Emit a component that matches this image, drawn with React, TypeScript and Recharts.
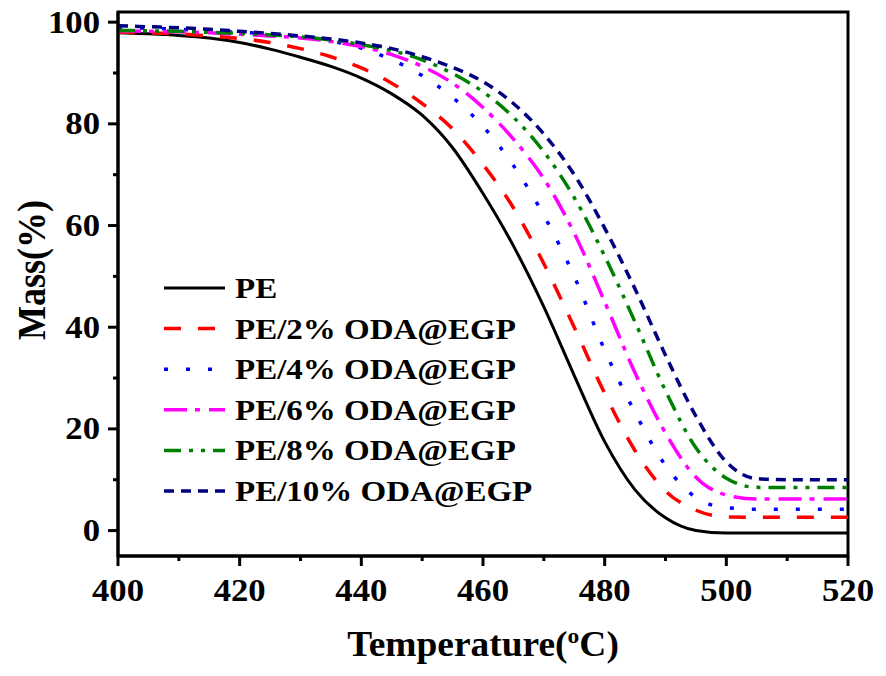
import React from 'react';
import { LineChart, Line, XAxis, YAxis, Legend, ReferenceArea } from 'recharts';

const temps = [400, 405, 410, 415, 420, 425, 430, 435, 440, 445, 450, 455, 460, 465, 470, 475, 480, 485, 490, 495, 500, 505, 510, 515, 520];
const pe = [97.9, 97.7, 97.4, 96.9, 96.0, 94.7, 93.1, 91.3, 89.0, 85.9, 81.7, 75.3, 66.3, 56.0, 44.0, 30.5, 17.5, 8.0, 2.5, 0.0, -0.5, -0.5, -0.5, -0.5, -0.5];
const pe2 = [98.0, 97.9, 97.7, 97.3, 96.8, 96.0, 94.8, 93.2, 91.0, 88.0, 84.0, 79.0, 72.0, 63.5, 52.5, 40.0, 27.0, 15.7, 7.8, 4.0, 2.7, 2.6, 2.6, 2.6, 2.6];
const pe4 = [98.9, 98.8, 98.6, 98.3, 98.0, 97.7, 97.2, 96.3, 94.9, 92.6, 89.5, 85.2, 79.5, 71.8, 62.0, 50.0, 35.5, 23.2, 12.8, 6.5, 4.5, 4.2, 4.2, 4.2, 4.2];
const pe6 = [98.3, 98.2, 98.1, 97.9, 97.6, 97.3, 96.9, 96.2, 95.2, 93.6, 91.3, 88.0, 83.2, 77.0, 69.2, 58.5, 45.0, 31.0, 19.2, 10.5, 7.0, 6.2, 6.2, 6.2, 6.2];
const pe8 = [98.4, 98.3, 98.2, 98.0, 97.8, 97.5, 97.1, 96.5, 95.6, 94.4, 92.6, 89.9, 86.3, 81.3, 74.5, 65.5, 54.0, 41.0, 27.5, 16.3, 10.3, 8.5, 8.45, 8.45, 8.45];
const pe10 = [99.3, 99.1, 98.9, 98.6, 98.2, 97.8, 97.3, 96.7, 95.9, 94.8, 93.2, 91.1, 88.3, 84.0, 78.0, 70.0, 59.5, 47.5, 34.5, 22.5, 13.5, 10.2, 10.0, 10.0, 10.0];

const xTicks = [400, 410, 420, 430, 440, 450, 460, 470, 480, 490, 500, 510, 520];
const yTicks = [0, 10, 20, 30, 40, 50, 60, 70, 80, 90, 100];

const series = [
  { key: 'pe', name: 'PE', color: '#000000', dash: undefined as string | undefined, width: 3 },
  { key: 'pe2', name: 'PE/2% ODA@EGP', color: '#FF0000', dash: '17 17', width: 3.5 },
  { key: 'pe4', name: 'PE/4% ODA@EGP', color: '#0000FF', dash: '4 18', width: 3.5 },
  { key: 'pe6', name: 'PE/6% ODA@EGP', color: '#FF00FF', dash: '23 8 5 9', width: 3.5 },
  { key: 'pe8', name: 'PE/8% ODA@EGP', color: '#008000', dash: '17 8 4 8 4 8', width: 3.5 },
  { key: 'pe10', name: 'PE/10% ODA@EGP', color: '#000080', dash: '10 7', width: 3.5 },
];

const data = temps.map((t, i) => ({
  T: t,
  pe: pe[i],
  pe2: pe2[i],
  pe4: pe4[i],
  pe6: pe6[i],
  pe8: pe8[i],
  pe10: pe10[i],
}));

const FONT = '"Liberation Serif", "Times New Roman", serif';

const XTick = (props: any) => {
  const { x, y, payload } = props;
  const v = payload.value;
  const major = v % 20 === 0;
  const ay = y - 10;
  return (
    <g>
      <line x1={x} x2={x} y1={ay} y2={ay + (major ? 10 : 5)} stroke="#000" strokeWidth={3} />
      {major && (
        <text
          transform={`translate(${x},${ay + 45}) scale(1.12,1)`}
          textAnchor="middle"
          fontFamily={FONT}
          fontWeight="bold"
          fontSize={31}
          fill="#000"
        >
          {v}
        </text>
      )}
    </g>
  );
};

const YTick = (props: any) => {
  const { x, y, payload } = props;
  const v = payload.value;
  const major = v % 20 === 0;
  const ax = x + 10;
  return (
    <g>
      <line x1={ax - (major ? 10 : 5)} x2={ax} y1={y} y2={y} stroke="#000" strokeWidth={3} />
      {major && (
        <text
          transform={`translate(${ax - 18},${y + 10.5}) scale(1.12,1)`}
          textAnchor="end"
          fontFamily={FONT}
          fontWeight="bold"
          fontSize={31}
          fill="#000"
        >
          {v}
        </text>
      )}
    </g>
  );
};

const XTitle = (props: any) => {
  const vb = props.viewBox || {};
  const cx = vb.x + vb.width / 2;
  return (
    <text
      transform={`translate(${cx},${vb.y + 100}) scale(1.07,1)`}
      textAnchor="middle"
      fontFamily={FONT}
      fontWeight="bold"
      fontSize={35}
      fill="#000"
    >
      Temperature(
      <tspan fontSize={22} dy={-13}>o</tspan>
      <tspan dy={13}>C)</tspan>
    </text>
  );
};

const YTitle = (props: any) => {
  const vb = props.viewBox || {};
  const cy = vb.y + vb.height / 2 - 14;
  return (
    <text
      transform={`translate(37,${cy}) rotate(-90) scale(1.0,1.1)`}
      textAnchor="middle"
      fontFamily={FONT}
      fontWeight="bold"
      fontSize={36}
      fill="#000"
    >
      Mass(%)
    </text>
  );
};

const LegendBox = () => (
  <svg width={420} height={250} style={{ display: 'block' }}>
    {series.map((s, i) => {
      const cy = 26 + 40.6 * i;
      return (
        <g key={s.key}>
          <line x1={8} x2={69} y1={cy} y2={cy} stroke={s.color} strokeWidth={s.width} strokeDasharray={s.dash} />
          <text
            transform={`translate(79,${cy + 10}) scale(1.1,1)`}
            fontFamily={FONT}
            fontWeight="bold"
            fontSize={30}
            fill="#000"
          >
            {s.name}
          </text>
        </g>
      );
    })}
  </svg>
);

export default function App() {
  return (
    <div style={{ width: 870, height: 660, background: '#fff' }}>
      <LineChart width={870} height={660} data={data} margin={{ top: 4, right: 30, bottom: 0, left: 0 }}>
        <XAxis
          dataKey="T"
          type="number"
          domain={[400, 520]}
          ticks={xTicks}
          interval={0}
          height={112}
          tickSize={10}
          tickMargin={0}
          tickLine={false}
          axisLine={{ stroke: '#000', strokeWidth: 3 }}
          tick={<XTick />}
          label={<XTitle />}
        />
        <YAxis
          type="number"
          domain={[-5, 102]}
          ticks={yTicks}
          interval={0}
          width={110}
          tickSize={10}
          tickMargin={0}
          tickLine={false}
          allowDataOverflow
          axisLine={{ stroke: '#000', strokeWidth: 3 }}
          tick={<YTick />}
          label={<YTitle />}
        />
        <ReferenceArea x1={400} x2={520} y1={-5} y2={102} fill="none" fillOpacity={0} stroke="#000" strokeWidth={3} ifOverflow="visible" />
        {series.map((s) => (
          <Line
            key={s.key}
            type="monotone"
            dataKey={s.key}
            name={s.name}
            stroke={s.color}
            strokeWidth={s.width}
            strokeDasharray={s.dash}
            dot={false}
            activeDot={false}
            isAnimationActive={false}
          />
        ))}
        <Legend
          layout="vertical"
          align="center"
          verticalAlign="middle"
          content={<LegendBox />}
          wrapperStyle={{ position: 'absolute', left: 148, top: 254, width: 420, height: 250 }}
        />
      </LineChart>
    </div>
  );
}
